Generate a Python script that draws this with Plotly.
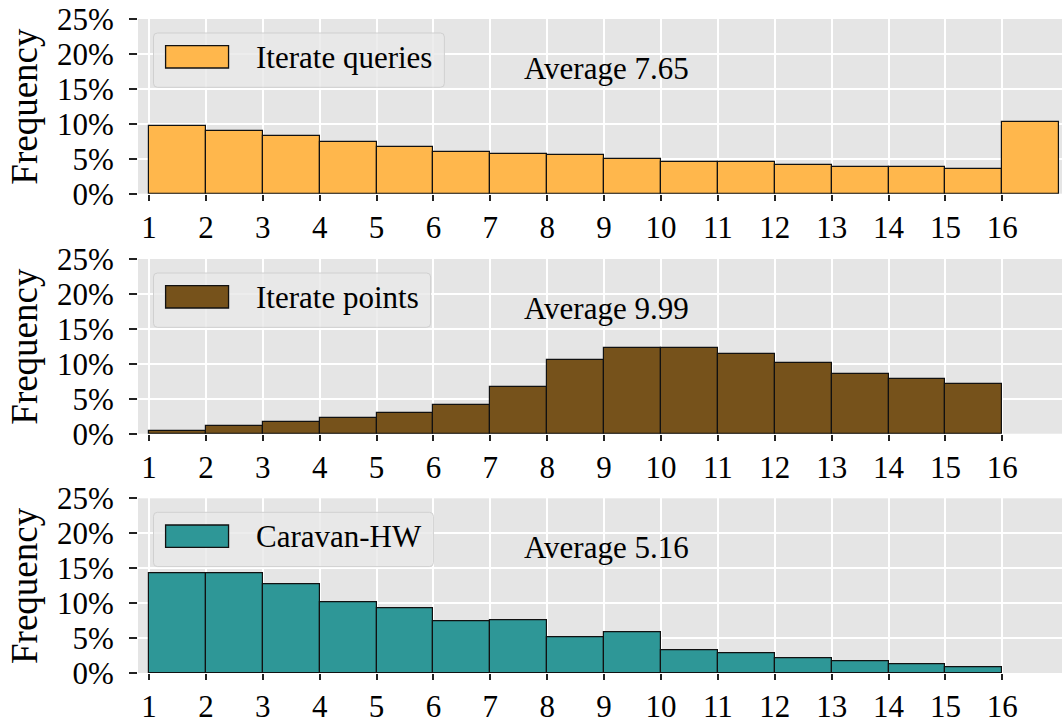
import plotly.graph_objects as go
from plotly.subplots import make_subplots

# Bin left edges (each bin is one unit wide)
bin_left = list(range(1, 17))

# Frequencies in percent per bin
iterate_queries = [9.73, 9.01, 8.20, 7.44, 6.72, 6.01, 5.68, 5.58, 5.01, 4.58,
                   4.48, 4.05, 3.82, 3.82, 3.53, 10.30]
iterate_points = [0.38, 1.05, 1.62, 2.24, 2.91, 4.15, 6.68, 10.54, 12.30, 12.30,
                  11.45, 10.10, 8.59, 7.82, 7.16]
caravan_hw = [14.26, 14.20, 12.68, 10.10, 9.25, 7.34, 7.58, 5.05, 5.77, 3.29,
              2.81, 2.10, 1.62, 1.24, 0.81]

series_names = ["Iterate queries", "Iterate points", "Caravan-HW"]
series_values = [iterate_queries, iterate_points, caravan_hw]
series_colors = ["#FFB74C", "#76521B", "#2E9797"]
averages = ["7.65", "9.99", "5.16"]

x_ticks = list(range(1, 17))
y_ticks = [0, 5, 10, 15, 20, 25]
y_tick_text = ["0%", "5%", "10%", "15%", "20%", "25%"]

FONT = "Liberation Serif, Times New Roman, serif"
W, H = 1062, 724
M_L, M_R, M_T, M_B = 137.7, 0, 19, 51

fig = make_subplots(rows=3, cols=1)

# panel height 174.7 px, gap 65.3 px within a 654 px plotting band
domains = [[0.7329, 1.0], [0.3659, 0.6330], [0.0, 0.2671]]
legend_right = [0.3316, 0.3167, 0.3197]


def rounded_rect(x0, y0, x1, y1, rx, ry):
    return (f"M {x0 + rx},{y0} L {x1 - rx},{y0} Q {x1},{y0} {x1},{y0 + ry} "
            f"L {x1},{y1 - ry} Q {x1},{y1} {x1 - rx},{y1} "
            f"L {x0 + rx},{y1} Q {x0},{y1} {x0},{y1 - ry} "
            f"L {x0},{y0 + ry} Q {x0},{y0} {x0 + rx},{y0} Z")


plot_w = W - M_L - M_R
plot_h_px = 174.7
rx = 4 / plot_w
ry = 4 / plot_h_px

for i, (name, vals, col, avg) in enumerate(zip(series_names, series_values,
                                               series_colors, averages)):
    row = i + 1
    n = len(vals)
    fig.add_trace(
        go.Bar(x=bin_left[:n], y=vals, width=1, offset=0,
               marker=dict(color=col, line=dict(color="#111111", width=1.2)),
               name=name, showlegend=False),
        row=row, col=1)

    sfx = "" if row == 1 else str(row)
    xdom = f"x{sfx} domain"
    ydom = f"y{sfx} domain"

    # legend frame
    fig.add_shape(type="path",
                  path=rounded_rect(0.01677, 0.6090, legend_right[i], 0.9199, rx, ry),
                  xref=xdom, yref=ydom,
                  fillcolor="rgba(232,232,232,0.8)",
                  line=dict(color="#d0d0d0", width=1), layer="above")
    # legend patch
    fig.add_shape(type="rect", x0=0.02986, x1=0.098, y0=0.7195, y1=0.8472,
                  xref=xdom, yref=ydom, fillcolor=col,
                  line=dict(color="#111111", width=1.3), layer="above")
    fig.add_annotation(text=name, xref=xdom, yref=ydom, x=0.126, y=0.7796,
                       xanchor="left", yanchor="middle", showarrow=False,
                       font=dict(family=FONT, size=31, color="#000000"))
    fig.add_annotation(text=f"Average {avg}", xref=xdom, yref=ydom,
                       x=0.4155, y=0.7167, xanchor="left", yanchor="middle",
                       showarrow=False,
                       font=dict(family=FONT, size=31, color="#000000"))
    fig.add_annotation(text="Frequency", xref="paper", yref=ydom,
                       x=(24 - M_L) / plot_w, y=0.5, xanchor="center",
                       yanchor="middle", textangle=-90, showarrow=False,
                       font=dict(family=FONT, size=37, color="#000000"))

    fig.update_xaxes(row=row, col=1, range=[0.805, 17.05],
                     tickvals=x_ticks, ticktext=[str(t) for t in x_ticks],
                     ticks="outside", ticklen=6, tickwidth=1.6,
                     tickcolor="#222222", showgrid=True, gridcolor="#ffffff",
                     gridwidth=1.6, zeroline=False, showline=False,
                     automargin=False,
                     tickfont=dict(family=FONT, size=31, color="#000000"))
    fig.update_yaxes(row=row, col=1, range=[0, 25], domain=domains[i],
                     tickvals=y_ticks, ticktext=y_tick_text,
                     ticks="outside", ticklen=8, tickwidth=1.6,
                     tickcolor="#222222", showgrid=True, gridcolor="#ffffff",
                     gridwidth=1.6, zeroline=False, showline=False,
                     ticklabelstandoff=9, automargin=False,
                     tickfont=dict(family=FONT, size=31, color="#000000"))

fig.update_layout(
    width=W, height=H,
    margin=dict(l=M_L, r=M_R, t=M_T, b=M_B, pad=0, autoexpand=False),
    paper_bgcolor="#ffffff", plot_bgcolor="#E5E5E5",
    bargap=0, showlegend=False,
    font=dict(family=FONT, color="#000000"),
)

fig.write_html("out.html")
